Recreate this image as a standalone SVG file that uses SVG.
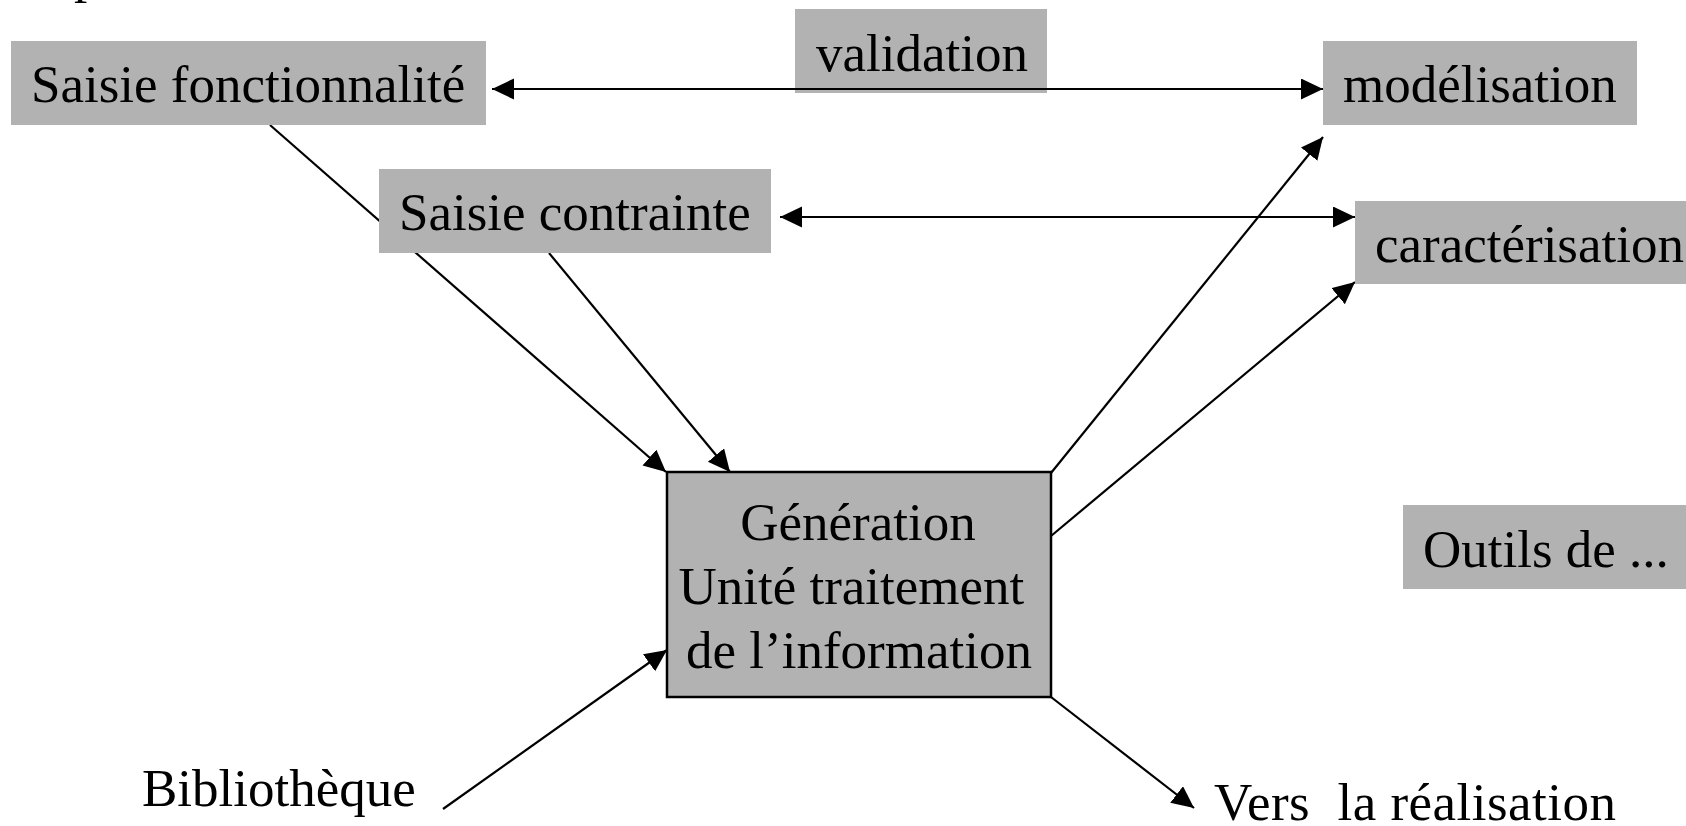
<svg xmlns="http://www.w3.org/2000/svg" width="1686" height="826" viewBox="0 0 1686 826">
<style>
  .box { fill: #b2b2b2; }
  .main { fill: #b2b2b2; stroke: #000; stroke-width: 2.5; }
  .t { font-family: "Liberation Serif", "Times New Roman", serif; font-size: 53px; fill: #000; white-space: pre; }
  .c { stroke: #000; stroke-width: 2.2; fill: none; }
</style>
<defs>
  <marker id="ah" markerUnits="userSpaceOnUse" markerWidth="24" markerHeight="22" refX="22" refY="10.5" orient="auto-start-reverse">
    <path d="M0,0 L22,10.5 L0,21 Z" fill="#000"/>
  </marker>
</defs>
<rect width="1686" height="826" fill="#fff"/>
<text class="t" x="74" y="-8">p</text>
<g id="validation">
  <rect class="box" x="795" y="9" width="252" height="84"/>
  <text class="t" x="816" y="71">validation</text>
</g>
<g id="connectors">
  <line class="c" x1="270" y1="125" x2="666" y2="472" marker-end="url(#ah)"/>
  <line class="c" x1="549" y1="253" x2="730" y2="472" marker-end="url(#ah)"/>
  <line class="c" x1="492" y1="89" x2="1323" y2="89" marker-start="url(#ah)" marker-end="url(#ah)"/>
  <line class="c" x1="780" y1="217" x2="1355" y2="217" marker-start="url(#ah)" marker-end="url(#ah)"/>
  <line class="c" x1="1051" y1="473" x2="1323" y2="137" marker-end="url(#ah)"/>
  <line class="c" x1="1051" y1="536" x2="1355" y2="282" marker-end="url(#ah)"/>
  <line class="c" x1="443" y1="809" x2="667" y2="650" marker-end="url(#ah)"/>
  <line class="c" x1="1051" y1="697" x2="1194" y2="808" marker-end="url(#ah)"/>
</g>
<g id="saisie-fonctionnalite">
  <rect class="box" x="11" y="41" width="475" height="84"/>
  <text class="t" x="31" y="102">Saisie fonctionnalité</text>
</g>
<g id="modelisation">
  <rect class="box" x="1323" y="41" width="314" height="84"/>
  <text class="t" x="1343" y="102">modélisation</text>
</g>
<g id="saisie-contrainte">
  <rect class="box" x="379" y="169" width="392" height="84"/>
  <text class="t" x="399" y="230">Saisie contrainte</text>
</g>
<g id="caracterisation">
  <rect class="box" x="1355" y="201" width="331" height="83"/>
  <text class="t" x="1375" y="262">caractérisation</text>
</g>
<g id="generation">
  <rect class="main" x="667" y="472" width="384" height="225"/>
  <text class="t" x="858" y="540" text-anchor="middle">Génération</text>
  <text class="t" x="858" y="604" text-anchor="middle">Unité traitement </text>
  <text class="t" x="859" y="668" text-anchor="middle">de l’information</text>
</g>
<g id="outils">
  <rect class="box" x="1403" y="505" width="283" height="84"/>
  <text class="t" x="1423" y="567">Outils de ...</text>
</g>
<g id="bibliotheque">
  <text class="t" x="142" y="806">Bibliothèque</text>
</g>
<g id="vers-realisation">
  <text class="t" x="1214" y="820" textLength="402" lengthAdjust="spacing">Vers  la réalisation</text>
</g>
</svg>
